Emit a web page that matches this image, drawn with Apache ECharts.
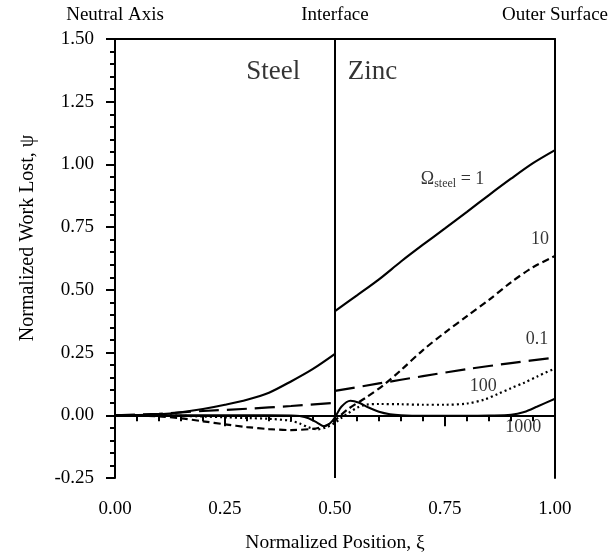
<!DOCTYPE html>
<html>
<head>
<meta charset="utf-8">
<script src="https://cdn.jsdelivr.net/npm/echarts@6.0.0/dist/echarts.min.js"></script>
<style>
  html, body { margin: 0; padding: 0; background: #fff; }
  #main { width: 611px; height: 558px; }
</style>
</head>
<body>
<div id="main"></div>
<script>
// normalized position xi and work lost psi
const omega1SteelX = [0, 0.05, 0.1, 0.15, 0.2, 0.25, 0.3, 0.35, 0.4, 0.45, 0.5]
const omega1SteelY = [0, 0.001, 0.004, 0.012, 0.025, 0.042, 0.062, 0.09, 0.135, 0.185, 0.245]
const omega1ZincX = [0.5, 0.55, 0.6, 0.65, 0.7, 0.75, 0.8, 0.85, 0.9, 0.95, 1.0]
const omega1ZincY = [0.415, 0.478, 0.542, 0.613, 0.68, 0.745, 0.811, 0.878, 0.943, 1.005, 1.057]

const omega01SteelX = [0, 0.1, 0.2, 0.3, 0.4, 0.5]
const omega01SteelY = [0, 0.006, 0.017, 0.026, 0.037, 0.05]
const omega01ZincX = [0.5, 0.6, 0.7, 0.8, 0.9, 1.0]
const omega01ZincY = [0.097, 0.127, 0.156, 0.184, 0.208, 0.23]

const omega10X = [0, 0.05, 0.1, 0.15, 0.2, 0.25, 0.3, 0.35, 0.4, 0.45, 0.47, 0.49, 0.5, 0.53, 0.57, 0.61, 0.65, 0.7, 0.75, 0.8, 0.85, 0.9, 0.95, 1.0]
const omega10Y = [0, -0.001, -0.004, -0.012, -0.024, -0.036, -0.047, -0.055, -0.059, -0.054, -0.047, -0.033, -0.02, 0.025, 0.07, 0.12, 0.18, 0.26, 0.33, 0.395, 0.46, 0.53, 0.59, 0.635]

const omega100X = [0, 0.1, 0.15, 0.2, 0.25, 0.3, 0.35, 0.4, 0.42, 0.44, 0.46, 0.48, 0.5, 0.515, 0.53, 0.55, 0.57, 0.6, 0.65, 0.7, 0.75, 0.8, 0.84, 0.87, 0.9, 0.93, 0.96, 1.0]
const omega100Y = [0, 0, -0.002, -0.005, -0.008, -0.011, -0.014, -0.022, -0.033, -0.048, -0.056, -0.048, -0.03, -0.01, 0.008, 0.03, 0.042, 0.045, 0.044, 0.042, 0.042, 0.047, 0.063, 0.085, 0.108, 0.13, 0.155, 0.187]

const omega1000X = [0, 0.1, 0.2, 0.3, 0.4, 0.42, 0.44, 0.46, 0.475, 0.49, 0.5, 0.515, 0.535, 0.555, 0.575, 0.6, 0.625, 0.65, 0.7, 0.75, 0.8, 0.85, 0.9, 0.93, 0.96, 1.0]
const omega1000Y = [0, 0, 0, 0, -0.001, -0.003, -0.012, -0.03, -0.044, -0.03, -0.008, 0.035, 0.058, 0.05, 0.032, 0.014, 0.004, 0, -0.002, -0.002, -0.002, -0.001, 0.002, 0.013, 0.035, 0.066]

const xTicks = [0, 0.25, 0.5, 0.75, 1.0]
const topLabels = ["Neutral Axis", "Interface", "Outer Surface"]
const regionNames = ["Steel", "Zinc"]
const curveNames = ["1", "10", "0.1", "100", "1000"]

const zip = (xs, ys) => xs.map((x, i) => [x, ys[i]])
const FONT = "Liberation Serif"

const myChart = echarts.init(document.getElementById("main"))

function curve(xs, ys, type, width, extra) {
  return Object.assign({
    type: "line",
    data: zip(xs, ys),
    showSymbol: false,
    smooth: 0.3,
    lineStyle: { color: "#000", width: width, type: type },
    silent: true,
    z: 3,
  }, extra || {})
}

const SOLID = "solid"
const SHORT = [7, 4]
const LONG = [20, 8]
const DOTS = [2, 3]

myChart.setOption({
  animation: false,
  backgroundColor: "#fff",
  textStyle: { fontFamily: FONT, color: "#000" },
  grid: { left: 115, right: 54, top: 39, bottom: 79 },
  xAxis: [
    {
      type: "value", min: 0, max: 1, interval: 0.25,
      name: "Normalized Position, \u03be", nameLocation: "middle", nameGap: 55,
      nameTextStyle: { fontFamily: FONT, fontSize: 19.5, color: "#000" },
      axisLine: { lineStyle: { color: "#000", width: 2 } },
      axisTick: { length: 11, lineStyle: { color: "#000", width: 2 } },
      minorTick: { show: true, splitNumber: 5, length: 6, lineStyle: { color: "#000", width: 2 } },
      splitLine: { show: false },
      axisLabel: { margin: 22, fontFamily: FONT, fontSize: 19, color: "#000",
        formatter: v => xTicks.includes(v) ? v.toFixed(2) : "" },
    },
    {
      type: "value", position: "top", min: 0, max: 1, interval: 0.5,
      axisLine: { onZero: false, lineStyle: { color: "#000", width: 2 } },
      axisTick: { show: false },
      splitLine: { show: false },
      axisLabel: { margin: 14, fontFamily: FONT, fontSize: 19, color: "#000",
        showMinLabel: true, showMaxLabel: true,
        formatter: v => topLabels[Math.round(v * 2)] },
    },
  ],
  yAxis: [
    {
      type: "value", min: -0.25, max: 1.5, interval: 0.25,
      axisLine: { onZero: false, lineStyle: { color: "#000", width: 2 } },
      axisTick: { length: 9, lineStyle: { color: "#000", width: 2 } },
      minorTick: { show: true, splitNumber: 5, length: 5, lineStyle: { color: "#000", width: 2 } },
      splitLine: { show: false },
      axisLabel: { margin: 21, fontFamily: FONT, fontSize: 19, color: "#000",
        formatter: v => v.toFixed(2) },
    },
    {
      type: "value", position: "right", min: -0.25, max: 1.5,
      axisLine: { show: true, onZero: false, lineStyle: { color: "#000", width: 2 } },
      axisTick: { show: false }, axisLabel: { show: false }, splitLine: { show: false },
    },
  ],
  graphic: [
    {
      type: "text", x: 28, y: 238, rotation: Math.PI / 2,
      style: { text: "Normalized Work Lost, \u03c8", font: "20px " + FONT, fill: "#000",
        align: "center", verticalAlign: "middle" },
    },
  ],
  series: [
    curve(omega1SteelX, omega1SteelY, SOLID, 2.2, {
      markLine: {
        silent: true, symbol: "none", label: { show: false },
        lineStyle: { color: "#000", type: "solid", width: 2 },
        data: [{ xAxis: 0.5 }],
      },
    }),
    curve(omega1ZincX, omega1ZincY, SOLID, 2.2),
    curve(omega01SteelX, omega01SteelY, LONG, 2.2),
    curve(omega01ZincX, omega01ZincY, LONG, 2.2),
    curve(omega10X, omega10Y, SHORT, 2.2),
    curve(omega100X, omega100Y, DOTS, 2.2),
    curve(omega1000X, omega1000Y, SOLID, 2),
    {
      // region names and curve labels
      type: "scatter", symbolSize: 0, silent: true, z: 5,
      label: { show: true, position: "inside", color: "#000", fontFamily: FONT, fontSize: 18,
        formatter: p => p.data.text },
      data: [
        { value: [0.421, 1.37], text: regionNames[0], label: { align: "right", fontSize: 27 } },
        { value: [0.529, 1.37], text: regionNames[1], label: { align: "left", fontSize: 27 } },
        { value: [0.695, 0.94], text: "{a|\u03a9}{s|steel}{a| = " + curveNames[0] + "}", label: { align: "left",
          rich: { a: { fontFamily: FONT, fontSize: 18, color: "#000" },
                  s: { fontFamily: FONT, fontSize: 12, color: "#000", verticalAlign: "bottom", padding: [8, 0, 0, 0] } } } },
        { value: [0.966, 0.70], text: curveNames[1] },
        { value: [0.959, 0.304], text: curveNames[2] },
        { value: [0.837, 0.117], text: curveNames[3] },
        { value: [0.928, -0.046], text: curveNames[4] },
      ],
    },
  ],
})
</script>
</body>
</html>
